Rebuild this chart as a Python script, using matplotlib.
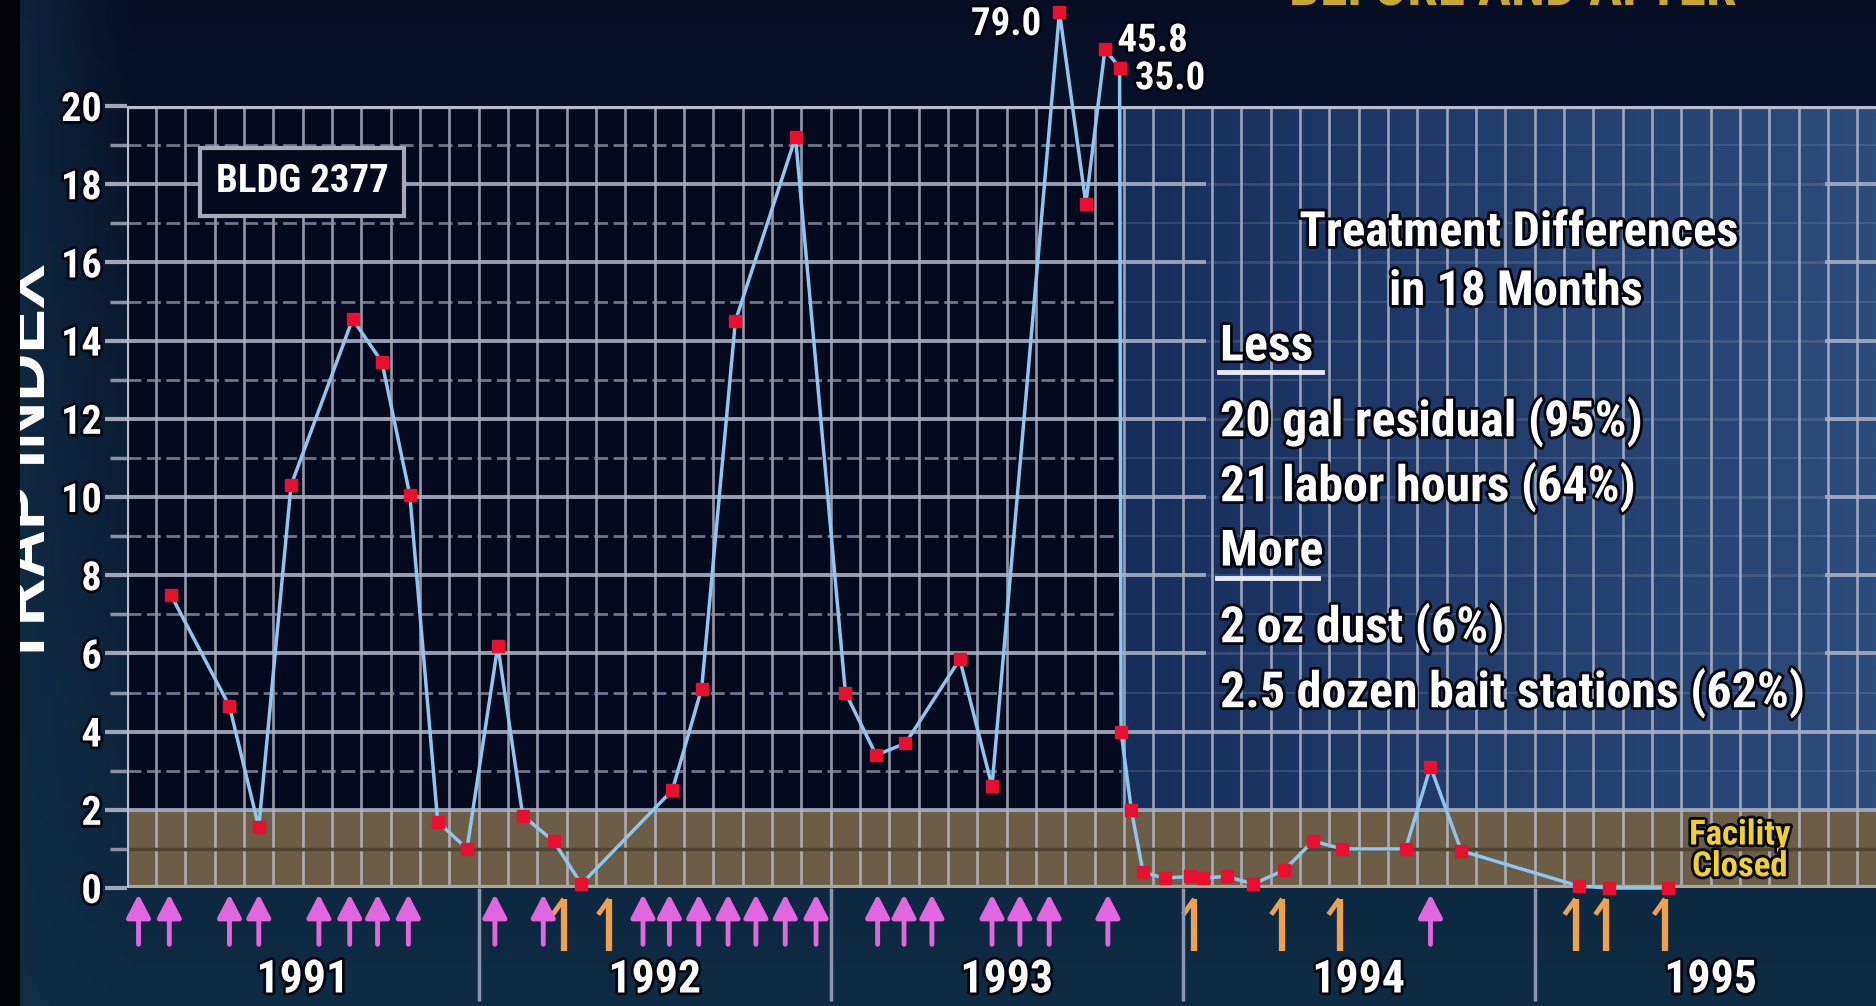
import numpy as np
import matplotlib
matplotlib.use("Agg")
import matplotlib.pyplot as plt
from matplotlib import patheffects as pe
from matplotlib.lines import Line2D
from matplotlib.patches import Rectangle
from matplotlib.transforms import blended_transform_factory

# ---- data (x = months since Jan 1991) ----
months = [1.5, 3.5, 4.5, 5.6, 7.7, 8.7, 9.65, 10.6, 11.6, 12.65, 13.5, 14.55,
          15.5, 18.6, 19.6, 20.75, 22.8, 24.5, 25.55, 26.55, 28.4, 29.5,
          31.8, 32.7, 33.35, 33.85, 33.9, 34.25, 34.65, 35.4, 36.25, 36.7,
          37.5, 38.4, 39.45, 40.45, 41.45, 43.6, 44.45, 45.5, 49.5, 50.55, 52.55]
trap_index = [7.5, 4.65, 1.55, 10.3, 14.55, 13.45, 10.05, 1.7, 1.0, 6.2, 1.85, 1.2,
              0.1, 2.5, 5.1, 14.5, 19.2, 5.0, 3.4, 3.7, 5.85, 2.6,
              79.0, 17.5, 45.8, 35.0, 4.0, 2.0, 0.4, 0.25, 0.3, 0.25,
              0.3, 0.1, 0.45, 1.2, 1.0, 1.0, 3.1, 0.95, 0.05, 0.0, 0.0]

# treatments (pink = old program, orange = new program)
pink_months = [0.4, 1.45, 3.5, 4.5, 6.55, 7.6, 8.55, 9.6, 12.55, 14.2, 17.6, 18.5,
               19.5, 20.5, 21.45, 22.45, 23.5, 25.6, 26.5, 27.45, 29.5, 30.45,
               31.45, 33.45, 44.45]
orange_months = [14.9, 16.45, 36.4, 39.4, 41.35, 49.4, 50.45, 52.45]

years = [1991, 1992, 1993, 1994, 1995]
switch_month = 33.9
building = "BLDG 2377"
heading = ["Treatment Differences", "in 18 Months"]
less_items = ["20 gal residual (95%)", "21 labor hours (64%)"]
more_items = ["2 oz dust (6%)", "2.5 dozen bait stations (62%)"]

W, H = 1876, 1006
XMAX = 59.64
NARROW = ["Roboto Condensed", "Archivo Narrow", "PT Sans Narrow",
          "Liberation Sans Narrow", "DejaVu Sans"]
plt.rcParams["font.family"] = NARROW
plt.rcParams["font.weight"] = "bold"

shadow = [pe.withStroke(linewidth=4, foreground="#03060f")]


def px(x, y):
    # pixel position on the slide -> figure fraction
    return x / W, 1 - y / H


# squeeze values above 20 into the strip above the frame
def fwd(v):
    v = np.asarray(v, dtype=float)
    return np.where(v > 20, 20 + 1.75 * np.log(np.maximum(v, 20) / 20), v)


def inv(u):
    u = np.asarray(u, dtype=float)
    return np.where(u > 20, 20 * np.exp((u - 20) / 1.75), u)


fig = plt.figure(figsize=(W / 100, H / 100), dpi=100)

# background of the slide
bg = fig.add_axes([0, 0, 1, 1], zorder=-10)
t = np.linspace(0, 1, 200)[:, None, None]
top = np.array([6, 14, 36]) / 255
bot = np.array([14, 44, 68]) / 255
img = top + (bot - top) * t ** 0.9
img = np.repeat(img, 300, axis=1)
xs = np.linspace(0, 1, 300)[None, :, None]
img = img + (np.array([16, 46, 70]) / 255 - img) * np.clip(1 - xs / 0.07, 0, 1) * 0.8
bg.imshow(img, extent=[0, 1, 0, 1], aspect="auto")
bg.axis("off")

pos = [126.8 / W, 1 - 888 / H, 1 - 126.8 / W, (888 - 106) / H]

# chart panels (linear axes underneath)
under = fig.add_axes(pos, zorder=-5)
under.add_patch(Rectangle((0, 2), switch_month, 18, color="#040a1e", lw=0))
grad = np.linspace(0, 1, 100)[None, :, None]
c0 = np.array([22, 46, 92]) / 255
c1 = np.array([44, 76, 124]) / 255
under.imshow(c0 + (c1 - c0) * grad, extent=[switch_month, XMAX, 2, 20],
             aspect="auto", interpolation="bilinear")
under.add_patch(Rectangle((0, 0), XMAX, 2, color="#6b5d46", lw=0))
under.set_xlim(0, XMAX)
under.set_ylim(0, 20)
under.axis("off")

ax = fig.add_axes(pos)
ax.patch.set_alpha(0)
ax.set_yscale("function", functions=(fwd, inv))
ax.set_xlim(0, XMAX)
ax.set_ylim(0, 20)
for s in ax.spines.values():
    s.set_visible(False)

# grid
ax.vlines(np.arange(1, 60), 0, 20, color="#c4c8d6", lw=1.9, alpha=0.75, zorder=2)
for v in range(2, 20, 2):
    if v >= 6:
        ax.hlines(v, 0, 36.8, color="#a9afc2", lw=2.8, alpha=0.9, zorder=2)
        ax.hlines(v, 57.9, XMAX, color="#a9afc2", lw=2.8, alpha=0.9, zorder=2)
        ax.hlines(v, 36.8, 57.9, color="#a9afc2", lw=2.0, alpha=0.2, zorder=2)
    else:
        ax.hlines(v, 0, XMAX, color="#a9afc2", lw=2.8, alpha=0.9, zorder=2)
for v in range(3, 20, 2):
    ax.hlines(v, 0, switch_month, color="#8a90a8", lw=2, ls=(0, (5, 2)), alpha=0.8, zorder=2)
    ax.hlines(v, switch_month, XMAX, color="#9aa8c4", lw=1.5, alpha=0.2, zorder=2)
ax.hlines(1, 0, XMAX, color="#4d4434", lw=2.5, zorder=2)
ax.hlines(20, 0, XMAX, color="#b8bccb", lw=4.5, zorder=3)
ax.hlines(0, 0, XMAX, color="#a9a79a", lw=4.5, zorder=3)
ax.vlines(0, 0, 20, color="#b8bccb", lw=3, zorder=3)

ax.set_xticks([])
ax.set_yticks(range(0, 21, 2))
ax.set_yticks(range(1, 20, 2), minor=True)
ax.yaxis.set_major_formatter(plt.FuncFormatter(lambda v, p: f"{v:.0f}"))
ax.yaxis.set_minor_formatter(plt.NullFormatter())
ax.tick_params(axis="y", which="major", length=16, width=3, color="#a0a6b8",
               pad=2, labelsize=29, labelcolor="white")
ax.tick_params(axis="y", which="minor", length=12, width=2.5, color="#8a90a6")
for lab in ax.get_yticklabels():
    lab.set_path_effects(shadow)

# data line
ax.plot(months, trap_index, color="#8ec6ee", lw=2.5, marker="s", ms=8.5,
        mfc="#e8102e", mec="#e8102e", clip_on=False, zorder=6)

# labels of the off-scale points
offsets = [(-13, -9, "right"), (9, 6, "left"), (11, -8, "left")]
peaks = [(m, v) for m, v in zip(months, trap_index) if v > 20]
for (m, v), (dx, dy, ha) in zip(peaks, offsets):
    ax.annotate(f"{v:.1f}", (m, v), xytext=(dx, dy), textcoords="offset points",
                ha=ha, va="center", fontsize=28, color="white",
                path_effects=shadow, annotation_clip=False, zorder=7)

# treatment arrows and years under the axis
trans = blended_transform_factory(ax.transData, ax.transAxes)
for m in pink_months:
    ax.annotate("", xy=(m, -0.008), xytext=(m, -0.072), xycoords=trans,
                textcoords=trans, annotation_clip=False,
                arrowprops=dict(arrowstyle="-|>,head_length=0.5,head_width=0.26",
                                mutation_scale=28, color="#e266e0", lw=3.5,
                                shrinkA=0, shrinkB=0))
for m in orange_months:
    ax.plot([m, m], [-0.014, -0.08], transform=trans, color="#f0a24a", lw=4.5,
            clip_on=False, solid_capstyle="butt")
    ax.plot([m - 0.38, m], [-0.034, -0.014], transform=trans, color="#f0a24a",
            lw=3.5, clip_on=False, solid_capstyle="butt")

ax.vlines([12, 24, 36, 48], -0.145, 0, transform=trans, color="#8c96aa", lw=2.5,
          clip_on=False)
for i, yr in enumerate(years):
    ax.text(12 * i + 6, -0.117, str(yr), transform=trans, ha="center", va="center",
            fontsize=33, color="white", path_effects=shadow, clip_on=False)

ax.text(55.0, 0.95, "Facility\nClosed", ha="center", va="center", fontsize=25,
        color="#f2d22a", linespacing=0.95, path_effects=shadow, zorder=7)

# text blocks
fig.text(*px(302, 182), building, ha="center", va="center", fontsize=28, color="white",
         bbox=dict(boxstyle="square,pad=0.4", fc="#040a1c", ec="#a6aaba", lw=3))

fig.text(*px(1519, 233), heading[0], ha="center", va="center", fontsize=35,
         color="white", path_effects=shadow)
fig.text(*px(1516, 292), heading[1], ha="center", va="center", fontsize=35,
         color="white", path_effects=shadow)

fig.text(*px(1220, 347), "Less", ha="left", va="center", fontsize=36, color="white",
         path_effects=shadow)
fig.add_artist(Line2D([1219 / W, 1322 / W], [1 - 372 / H] * 2, color="#e8e8f0", lw=3.5))
for item, y in zip(less_items, [422, 487]):
    fig.text(*px(1220, y), item, ha="left", va="center", fontsize=36, color="white",
             path_effects=shadow)
fig.text(*px(1220, 552), "More", ha="left", va="center", fontsize=36, color="white",
         path_effects=shadow)
fig.add_artist(Line2D([1217 / W, 1318 / W], [1 - 578 / H] * 2, color="#e8e8f0", lw=3.5))
for item, y in zip(more_items, [628, 693]):
    fig.text(*px(1220, y), item, ha="left", va="center", fontsize=36, color="white",
             path_effects=shadow)

# axis title, cut by the slide edge
fig.text(*px(59, 465), "TRAP INDEX", rotation=90, ha="right", va="center", fontsize=48,
         color="white", family=["Liberation Sans", "DejaVu Sans"])
# slide title, mostly out of frame
fig.text(*px(1513, 5), "BEFORE AND AFTER", ha="center", va="baseline", fontsize=40,
         color="#c8a830")
fig.add_artist(Rectangle((0, 0), 20 / W, 1, transform=fig.transFigure,
                         color="#020409", lw=0, zorder=100))

fig.savefig("out.png", dpi=100)
